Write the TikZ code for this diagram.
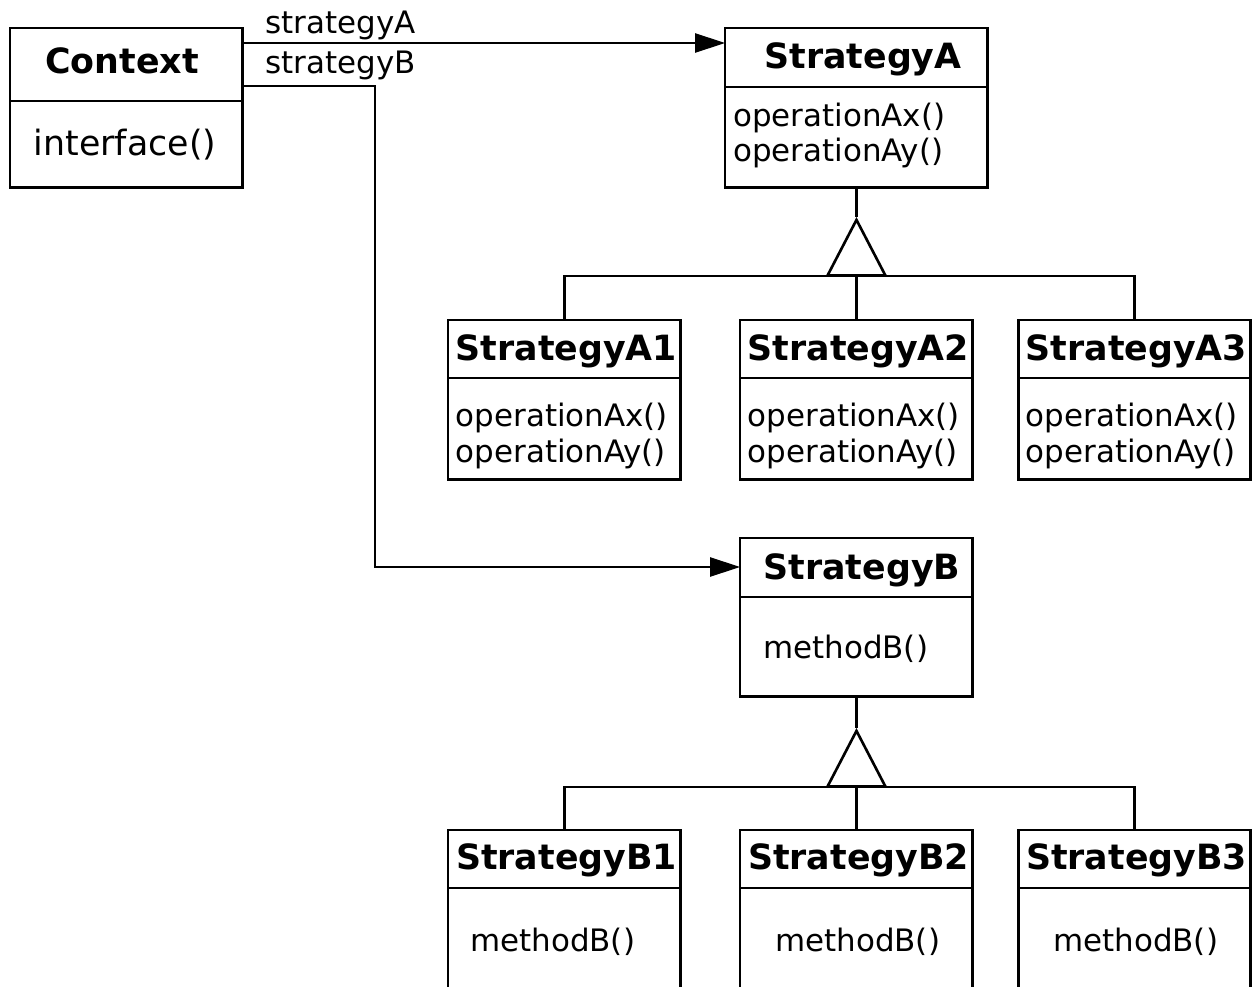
\documentclass[tikz,border=0pt]{standalone}
\usepackage{fontspec}
\setmainfont{DejaVu Sans}
\usetikzlibrary{arrows.meta,positioning}

\begin{document}
\begin{tikzpicture}[x=0.02cm,y=-0.02cm,
  class/.style={draw,line width=1.7pt,anchor=north west,inner sep=0pt,outer sep=0pt,
    minimum width=4.66cm,minimum height=3.2cm},
  title/.style={anchor=base,inner sep=0pt,font=\fontsize{19.8}{24}\selectfont\bfseries},
  member/.style={anchor=base west,inner sep=0pt,font=\fontsize{17.6}{21}\selectfont},
  sep/.style={line width=0.7pt},
  isa/.style={line width=1.5pt},
  assoc/.style={line width=0.6pt,-{Triangle[length=17pt,width=11pt]}}]

  \useasboundingbox (0,0) rectangle (1252,987);
  \clip (0,0) rectangle (1252,987);

  % context
  \node[class] (context) at (10,28) {};
  \node[title] (context-t) at (122,73) {Context};
  \draw[sep] (context.west |- 0,101) -- (context.east |- 0,101);
  \node[anchor=base,inner sep=0pt,font=\fontsize{19.8}{24}\selectfont] (iface) at (125,155) {interface()};

  % strategy A
  \node[class,minimum width=5.26cm] (sA) at (725,28) {};
  \node[title] (sA-t) at (863,69) {StrategyA};
  \draw[sep] (sA.west |- 0,87) -- (sA.east |- 0,87);
  \node[member] (sA-x) at (733,126) {operationAx()};
  \node[member] (sA-y) at (733,161) {operationAy()};

  \foreach \x/\i in {448/1,740/2,1018/3} {
    \node[class] (a\i) at (\x,320) {};
    \node[title] (a\i-t) at (\x+118.5,360) {StrategyA\i};
    \draw[sep] (a\i.west |- 0,378) -- (a\i.east |- 0,378);
    \node[member] (a\i-x) at (\x+7.5,426) {operationAx()};
    \node[member] (a\i-y) at (\x+7.5,462) {operationAy()};
  }

  % strategy B
  \node[class,minimum height=3.18cm] (sB) at (740,538) {};
  \node[title] (sB-t) at (862,579) {StrategyB};
  \draw[sep] (sB.west |- 0,597) -- (sB.east |- 0,597);
  \node[member] (sB-m) at (763,658) {methodB()};

  \foreach \x/\i/\m in {448/1/470,740/2/775,1018/3/1053} {
    \node[class,minimum height=4.2cm] (b\i) at (\x,830) {};
    \node[title] (b\i-t) at (\x+118.5,869) {StrategyB\i};
    \draw[sep] (b\i.west |- 0,888) -- (b\i.east |- 0,888);
    \node[member] (b\i-m) at (\m,951) {methodB()};
  }

  % inheritance
  \coordinate (jA) at (sA.south |- 0,276);
  \coordinate (apexA) at (sA.south |- 0,217);
  \draw[isa] (sA.south) -- (apexA);
  \draw[isa,-{Triangle[open,length=34pt,width=35pt]}] (jA) -- (apexA);
  \draw[isa] (a1.north) |- (jA) -| (a3.north);
  \draw[isa] (a2.north) -- (a2.north |- jA);

  \coordinate (jB) at (sB.south |- 0,787);
  \coordinate (apexB) at (sB.south |- 0,728);
  \draw[isa] (sB.south) -- (apexB);
  \draw[isa,-{Triangle[open,length=34pt,width=35pt]}] (jB) -- (apexB);
  \draw[isa] (b1.north) |- (jB) -| (b3.north);
  \draw[isa] (b2.north) -- (b2.north |- jB);

  % associations
  \draw[assoc] (context.east |- 0,43) -- (sA.west |- 0,43);
  \node[member] (roleA) at (265,33) {strategyA};
  \coordinate (bendB) at (375,86);
  \draw[assoc] (context.east |- bendB) -- (bendB) |- (sB.west |- 0,567);
  \node[member] (roleB) at (265,73) {strategyB};
\end{tikzpicture}
\end{document}
